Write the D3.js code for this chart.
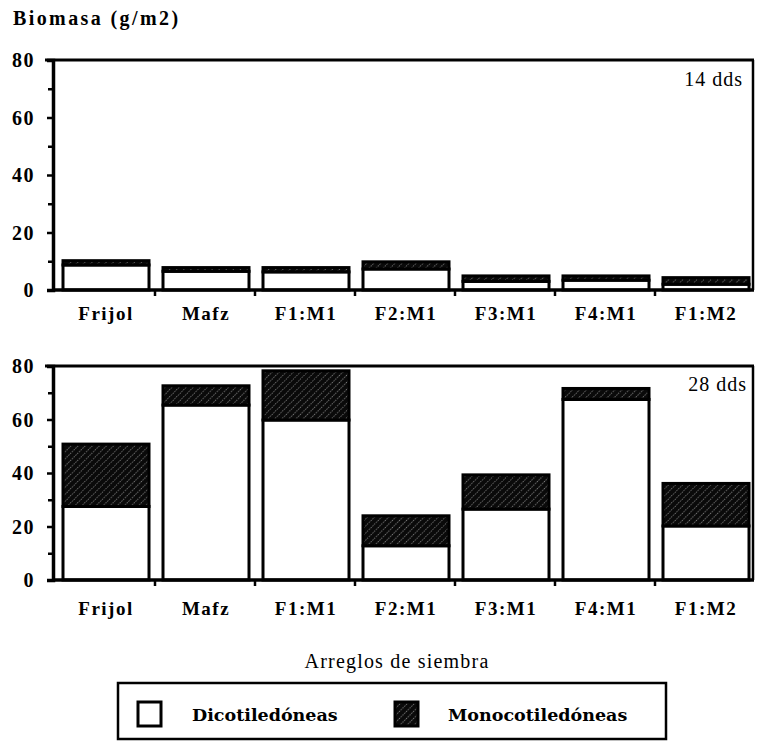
<!DOCTYPE html>
<html>
<head>
<meta charset="utf-8">
<script src="https://cdn.jsdelivr.net/npm/d3@7"></script>
<style>
  body { margin: 0; background: #fff; }
  svg { display: block; }
  text { font-family: "Liberation Serif", "Times New Roman", serif; fill: #000; }
  .tickLabel { font-size: 20px; font-weight: bold; letter-spacing: 1.5px; }
  .catLabel { font-size: 19px; font-weight: bold; letter-spacing: 1.5px; }
  .panelTag { font-size: 20px; letter-spacing: 1px; }
  .legendText { font-family: "DejaVu Serif", serif; font-size: 17.5px; font-weight: bold; }
</style>
</head>
<body>
<div id="chart"></div>
<script>
// Data
const categories = ["Frijol", "Maíz", "F1:M1", "F2:M1", "F3:M1", "F4:M1", "F1:M2"];
const dico14 = [8.7, 6.5, 6.3, 7.3, 3.0, 3.4, 2.0];
const mono14 = [1.5, 1.3, 1.5, 2.5, 1.9, 1.5, 2.3];
const dico28 = [27.5, 65.4, 59.8, 12.8, 26.5, 67.5, 20.2];
const mono28 = [23.3, 7.2, 18.4, 11.2, 12.8, 4.1, 15.9];
const yTicks = [0, 20, 40, 60, 80];
const yMinorTicks = [10, 30, 50, 70];
const catLabels = ["Frijol", "Mafz", "F1:M1", "F2:M1", "F3:M1", "F4:M1", "F1:M2"];

const svgWidth = 758;
const svgHeight = 742;

const svg = d3.select("#chart")
  .append("svg")
  .attr("width", svgWidth)
  .attr("height", svgHeight);

// Hatch pattern for Monocotiledoneas
const defs = svg.append("defs");
const pattern = defs.append("pattern")
  .attr("id", "hatch")
  .attr("patternUnits", "userSpaceOnUse")
  .attr("width", 5)
  .attr("height", 5)
  .attr("patternTransform", "rotate(45)");
pattern.append("rect")
  .attr("width", 5).attr("height", 5)
  .attr("fill", "#0a0a0a");
pattern.append("line")
  .attr("x1", 0.5).attr("y1", 0).attr("x2", 0.5).attr("y2", 5)
  .attr("stroke", "#8a8a8a")
  .attr("stroke-width", 0.9)
  .attr("stroke-dasharray", "1.2,1.3");

// x scale shared by both panels
const xScale = d3.scaleBand()
  .domain(categories)
  .range([53, 753]);

// Fn to draw one panel
const drawPanel = function(opts) {
  const yScale = d3.scaleLinear()
    .domain([0, 80])
    .range([opts.bottom, opts.top]);

  const g = svg.append("g");

  // Bars
  const rows = categories.map((c, i) => ({cat: c, dico: opts.dico[i], mono: opts.mono[i]}));
  const bars = g.selectAll("g.bar")
    .data(rows)
    .enter()
    .append("g")
    .attr("class", "bar");

  bars.append("rect")
    .attr("x", d => xScale(d.cat) + 10)
    .attr("width", xScale.bandwidth() - 14)
    .attr("y", d => yScale(d.dico))
    .attr("height", d => yScale(0) - yScale(d.dico))
    .attr("fill", "#fff")
    .attr("stroke", "#000")
    .attr("stroke-width", 3);

  bars.append("rect")
    .attr("x", d => xScale(d.cat) + 10)
    .attr("width", xScale.bandwidth() - 14)
    .attr("y", d => yScale(d.dico + d.mono))
    .attr("height", d => yScale(d.dico) - yScale(d.dico + d.mono))
    .attr("fill", "url(#hatch)")
    .attr("stroke", "#000")
    .attr("stroke-width", 3);

  // Frame
  const x0 = xScale.range()[0], x1 = xScale.range()[1];
  g.append("line")
    .attr("x1", x0 - 8).attr("x2", x1 + 1)
    .attr("y1", yScale(80)).attr("y2", yScale(80))
    .attr("stroke", "#000").attr("stroke-width", 3);
  g.append("line")
    .attr("x1", x1).attr("x2", x1)
    .attr("y1", yScale(80)).attr("y2", yScale(0))
    .attr("stroke", "#000").attr("stroke-width", 2.5);

  // y axis
  const yAxis = d3.axisLeft(yScale)
    .tickValues(yTicks)
    .tickSize(6)
    .tickFormat("");
  const yAxisG = g.append("g")
    .attr("transform", `translate(${x0}, 0)`)
    .call(yAxis);
  yAxisG.select(".domain").attr("stroke-width", 3.5);
  yAxisG.selectAll(".tick line").attr("stroke-width", 2.5);

  const yMinor = d3.axisLeft(yScale)
    .tickValues(yMinorTicks)
    .tickSize(5)
    .tickFormat("");
  const yMinorG = g.append("g")
    .attr("transform", `translate(${x0}, 0)`)
    .call(yMinor);
  yMinorG.select(".domain").remove();
  yMinorG.selectAll(".tick line").attr("stroke-width", 2.5);

  g.selectAll("text.tickLabel")
    .data(yTicks)
    .enter()
    .append("text")
    .attr("class", "tickLabel")
    .attr("x", 35)
    .attr("y", d => yScale(d))
    .attr("dy", "0.36em")
    .attr("text-anchor", "end")
    .text(d => d);

  // x axis line and ticks at band edges
  g.append("line")
    .attr("x1", x0).attr("x2", x1 + 1)
    .attr("y1", yScale(0)).attr("y2", yScale(0))
    .attr("stroke", "#000").attr("stroke-width", 3.5);

  const edges = categories.slice(1).map(c => xScale(c) + 2);
  g.selectAll("line.xtick")
    .data(edges)
    .enter()
    .append("line")
    .attr("class", "xtick")
    .attr("x1", d => d).attr("x2", d => d)
    .attr("y1", yScale(0)).attr("y2", yScale(0) + 6)
    .attr("stroke", "#000").attr("stroke-width", 2.5);

  g.selectAll("text.catLabel")
    .data(categories)
    .enter()
    .append("text")
    .attr("class", "catLabel")
    .attr("x", d => xScale(d) + xScale.bandwidth() / 2 + 3)
    .attr("y", opts.labelY)
    .attr("text-anchor", "middle")
    .text((d, i) => catLabels[i]);

  // Panel tag
  g.append("text")
    .attr("class", "panelTag")
    .attr("x", opts.tagX)
    .attr("y", opts.tagY)
    .attr("text-anchor", "end")
    .text(opts.tag);
};

drawPanel({top: 60, bottom: 290, dico: dico14, mono: mono14, labelY: 320, tag: "14 dds", tagX: 743, tagY: 86});
drawPanel({top: 366, bottom: 580, dico: dico28, mono: mono28, labelY: 615, tag: "28 dds", tagX: 747, tagY: 391});

// Titles
svg.append("text")
  .attr("x", 13)
  .attr("y", 25)
  .attr("font-size", "20px")
  .attr("font-weight", "bold")
  .attr("letter-spacing", "2.4px")
  .text("Biomasa (g/m2)");

svg.append("text")
  .attr("x", 397)
  .attr("y", 668)
  .attr("text-anchor", "middle")
  .attr("font-size", "20px")
  .attr("letter-spacing", "1.2px")
  .text("Arreglos de siembra");

// Legend
const legend = svg.append("g");
legend.append("rect")
  .attr("x", 118).attr("y", 683)
  .attr("width", 548).attr("height", 56)
  .attr("fill", "none")
  .attr("stroke", "#000")
  .attr("stroke-width", 2.5);

const legendItems = [
  {label: "Dicotiledóneas", fill: "#fff", x: 138, tx: 192},
  {label: "Monocotiledóneas", fill: "url(#hatch)", x: 395, tx: 448}
];
legendItems.forEach(item => {
  legend.append("rect")
    .attr("x", item.x).attr("y", 702)
    .attr("width", 23).attr("height", 24)
    .attr("fill", item.fill)
    .attr("stroke", "#000")
    .attr("stroke-width", 3);
  legend.append("text")
    .attr("class", "legendText")
    .attr("x", item.tx)
    .attr("y", 721)
    .text(item.label);
});
</script>
</body>
</html>
